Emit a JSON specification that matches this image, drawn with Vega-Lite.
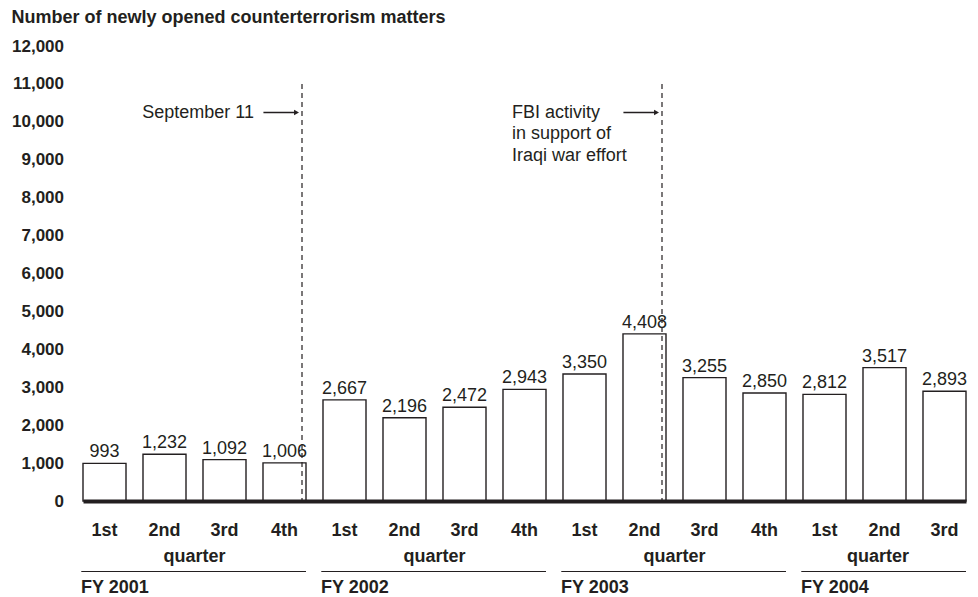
{
  "$schema": "https://vega.github.io/schema/vega-lite/v6.json",
  "width": 883,
  "height": 455,
  "autosize": {"type": "none"},
  "padding": {"left": 83, "top": 46, "right": 12, "bottom": 96},
  "background": "white",
  "title": {
    "text": "Number of newly opened counterterrorism matters",
    "anchor": "start",
    "frame": "bounds",
    "font": "Liberation Sans",
    "fontSize": 18,
    "fontWeight": "bold",
    "color": "#231f20",
    "offset": 10
  },
  "config": {
    "view": {"stroke": null},
    "font": "Liberation Sans",
    "axisY": {
      "labelFont": "Liberation Sans",
      "labelFontSize": 17,
      "labelFontWeight": "bold",
      "labelColor": "#231f20",
      "labelPadding": 19.5,
      "labelOverlap": false,
      "ticks": false,
      "tickSize": 0,
      "domain": false,
      "grid": false
    },
    "axisX": {
      "labelAngle": 0,
      "labelFont": "Liberation Sans",
      "labelFontSize": 18,
      "labelFontWeight": "bold",
      "labelColor": "#231f20",
      "ticks": false,
      "tickSize": 0,
      "labelPadding": 20,
      "domainColor": "#231f20",
      "domainWidth": 4,
      "grid": false
    }
  },
  "datasets": {
    "bars": [
      {"key": "2001 1st", "value": 993},
      {"key": "2001 2nd", "value": 1232},
      {"key": "2001 3rd", "value": 1092},
      {"key": "2001 4th", "value": 1006},
      {"key": "2002 1st", "value": 2667},
      {"key": "2002 2nd", "value": 2196},
      {"key": "2002 3rd", "value": 2472},
      {"key": "2002 4th", "value": 2943},
      {"key": "2003 1st", "value": 3350},
      {"key": "2003 2nd", "value": 4408},
      {"key": "2003 3rd", "value": 3255},
      {"key": "2003 4th", "value": 2850},
      {"key": "2004 1st", "value": 2812},
      {"key": "2004 2nd", "value": 3517},
      {"key": "2004 3rd", "value": 2893}
    ],
    "groups": [
      {"fy": "FY 2001", "first": "2001 1st", "last": "2001 4th", "mid": "2001 3rd", "n": 4},
      {"fy": "FY 2002", "first": "2002 1st", "last": "2002 4th", "mid": "2002 3rd", "n": 4},
      {"fy": "FY 2003", "first": "2003 1st", "last": "2003 4th", "mid": "2003 3rd", "n": 4},
      {"fy": "FY 2004", "first": "2004 1st", "last": "2004 3rd", "mid": "2004 2nd", "n": 3}
    ],
    "events": [
      {"event": "sept", "bar": "2001 4th", "textbar": "2001 4th", "label": ["September 11"]},
      {"event": "iraq", "bar": "2003 2nd", "textbar": "2002 4th", "label": ["FBI activity", "in support of", "Iraqi war effort"]}
    ]
  },
  "layer": [
    {
      "data": {"name": "bars"},
      "mark": {"type": "bar", "fill": "white", "stroke": "#231f20", "strokeWidth": 1.4},
      "encoding": {
        "x": {
          "field": "key",
          "type": "nominal",
          "sort": null,
          "scale": {
            "domain": ["2001 1st", "2001 2nd", "2001 3rd", "2001 4th", "2002 1st", "2002 2nd", "2002 3rd", "2002 4th", "2003 1st", "2003 2nd", "2003 3rd", "2003 4th", "2004 1st", "2004 2nd", "2004 3rd"],
            "paddingInner": 0.2833,
            "paddingOuter": 0
          },
          "axis": {"title": null, "labelExpr": "split(datum.label, ' ')[1]", "zindex": 1}
        },
        "y": {
          "field": "value",
          "type": "quantitative",
          "scale": {"domain": [0, 12000], "nice": false},
          "axis": {"title": null, "values": [0, 1000, 2000, 3000, 4000, 5000, 6000, 7000, 8000, 9000, 10000, 11000, 12000], "labelExpr": "format(datum.value, ',')", "labelOverlap": false}
        }
      }
    },
    {
      "data": {"name": "bars"},
      "mark": {"type": "text", "baseline": "alphabetic", "dy": -6, "fontSize": 18, "color": "#231f20", "font": "Liberation Sans"},
      "encoding": {
        "x": {"field": "key", "type": "nominal"},
        "y": {"field": "value", "type": "quantitative", "axis": {"title": null, "values": [0, 1000, 2000, 3000, 4000, 5000, 6000, 7000, 8000, 9000, 10000, 11000, 12000], "labelExpr": "format(datum.value, ',')", "labelOverlap": false}},
        "text": {"field": "value", "type": "quantitative", "format": ","}
      }
    },
    {
      "data": {"name": "events"},
      "mark": {"type": "rule", "strokeDash": [5, 4], "strokeWidth": 1.2, "color": "#231f20"},
      "encoding": {
        "x": {"field": "bar", "type": "nominal", "bandPosition": 0.907},
        "y": {"datum": 11000, "axis": {"title": null, "values": [0, 1000, 2000, 3000, 4000, 5000, 6000, 7000, 8000, 9000, 10000, 11000, 12000], "labelExpr": "format(datum.value, ',')", "labelOverlap": false}},
        "y2": {"datum": 0}
      }
    },
    {
      "data": {"name": "events"},
      "mark": {"type": "rule", "strokeWidth": 1.3, "color": "#231f20"},
      "encoding": {
        "x": {"field": "bar", "type": "nominal", "bandPosition": 0.01},
        "x2": {"field": "bar", "bandPosition": 0.76},
        "y": {"datum": 10246, "axis": {"title": null, "values": [0, 1000, 2000, 3000, 4000, 5000, 6000, 7000, 8000, 9000, 10000, 11000, 12000], "labelExpr": "format(datum.value, ',')", "labelOverlap": false}}
      }
    },
    {
      "data": {"name": "events"},
      "mark": {"type": "point", "shape": "triangle-right", "filled": true, "size": 32, "color": "#231f20", "opacity": 1},
      "encoding": {
        "x": {"field": "bar", "type": "nominal", "bandPosition": 0.78},
        "y": {"datum": 10246, "axis": {"title": null, "values": [0, 1000, 2000, 3000, 4000, 5000, 6000, 7000, 8000, 9000, 10000, 11000, 12000], "labelExpr": "format(datum.value, ',')", "labelOverlap": false}}
      }
    },
    {
      "data": {"name": "events"},
      "transform": [{"filter": "datum.event == 'sept'"}],
      "mark": {"type": "text", "align": "right", "baseline": "middle", "dx": -9, "fontSize": 18, "color": "#231f20", "font": "Liberation Sans"},
      "encoding": {
        "x": {"field": "textbar", "type": "nominal", "bandPosition": 0},
        "y": {"datum": 10246, "axis": {"title": null, "values": [0, 1000, 2000, 3000, 4000, 5000, 6000, 7000, 8000, 9000, 10000, 11000, 12000], "labelExpr": "format(datum.value, ',')", "labelOverlap": false}},
        "text": {"field": "label"}
      }
    },
    {
      "data": {"name": "events"},
      "transform": [{"filter": "datum.event == 'iraq'"}],
      "mark": {"type": "text", "align": "left", "baseline": "middle", "lineHeight": 21.5, "fontSize": 18, "color": "#231f20", "font": "Liberation Sans"},
      "encoding": {
        "x": {"field": "textbar", "type": "nominal", "bandPosition": 0.21},
        "y": {"datum": 10246, "axis": {"title": null, "values": [0, 1000, 2000, 3000, 4000, 5000, 6000, 7000, 8000, 9000, 10000, 11000, 12000], "labelExpr": "format(datum.value, ',')", "labelOverlap": false}},
        "text": {"field": "label"}
      }
    },
    {
      "data": {"name": "groups"},
      "mark": {"type": "rule", "strokeWidth": 1.1, "color": "#231f20", "clip": false},
      "encoding": {
        "x": {"field": "first", "type": "nominal", "bandPosition": -0.04},
        "x2": {"field": "last", "bandPosition": 1},
        "y": {"datum": -1861, "axis": {"title": null, "values": [0, 1000, 2000, 3000, 4000, 5000, 6000, 7000, 8000, 9000, 10000, 11000, 12000], "labelExpr": "format(datum.value, ',')", "labelOverlap": false}}
      }
    },
    {
      "data": {"name": "groups"},
      "transform": [{"filter": "datum.n == 4"}],
      "mark": {"type": "text", "align": "center", "baseline": "alphabetic", "fontSize": 18, "fontWeight": "bold", "color": "#231f20", "font": "Liberation Sans"},
      "encoding": {
        "x": {"field": "mid", "type": "nominal", "bandPosition": -0.2},
        "y": {"datum": -1601, "axis": {"title": null, "values": [0, 1000, 2000, 3000, 4000, 5000, 6000, 7000, 8000, 9000, 10000, 11000, 12000], "labelExpr": "format(datum.value, ',')", "labelOverlap": false}},
        "text": {"value": "quarter"}
      }
    },
    {
      "data": {"name": "groups"},
      "transform": [{"filter": "datum.n == 3"}],
      "mark": {"type": "text", "align": "center", "baseline": "alphabetic", "fontSize": 18, "fontWeight": "bold", "color": "#231f20", "font": "Liberation Sans"},
      "encoding": {
        "x": {"field": "mid", "type": "nominal", "bandPosition": 0.35},
        "y": {"datum": -1601, "axis": {"title": null, "values": [0, 1000, 2000, 3000, 4000, 5000, 6000, 7000, 8000, 9000, 10000, 11000, 12000], "labelExpr": "format(datum.value, ',')", "labelOverlap": false}},
        "text": {"value": "quarter"}
      }
    },
    {
      "data": {"name": "groups"},
      "mark": {"type": "text", "align": "left", "baseline": "alphabetic", "dx": -2, "fontSize": 18, "fontWeight": "bold", "color": "#231f20", "font": "Liberation Sans"},
      "encoding": {
        "x": {"field": "first", "type": "nominal", "bandPosition": 0},
        "y": {"datum": -2426, "axis": {"title": null, "values": [0, 1000, 2000, 3000, 4000, 5000, 6000, 7000, 8000, 9000, 10000, 11000, 12000], "labelExpr": "format(datum.value, ',')", "labelOverlap": false}},
        "text": {"field": "fy"}
      }
    }
  ]
}
